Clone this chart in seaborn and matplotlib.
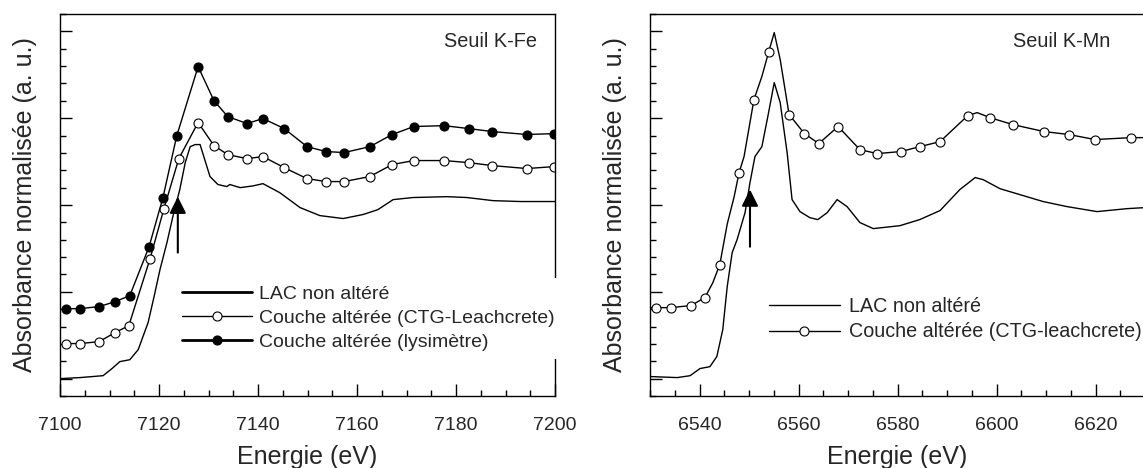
import matplotlib
matplotlib.use('Agg')
import matplotlib.pyplot as plt
import seaborn as sns
from matplotlib.ticker import MultipleLocator

# Seuil K-Fe
fe_lac_x = [7100, 7104, 7108.7, 7110.5, 7112.1, 7114.1, 7115.8, 7117.8, 7119.0, 7120.2, 7121.6, 7122.8,
            7124.2, 7125.3, 7126.3, 7127.3, 7128.3, 7130.3, 7131.9, 7133.7, 7134.3, 7136.4, 7139.0, 7141.0,
            7144.4, 7148.5, 7152.5, 7157.2, 7161.2, 7164.2, 7167.3, 7171.3, 7178.2, 7182.2, 7187.5, 7193.0, 7200]
fe_lac_y = [0.0, 0.006, 0.017, 0.058, 0.098, 0.109, 0.167, 0.323, 0.472, 0.628, 0.783, 0.933,
            1.089, 1.244, 1.336, 1.348, 1.348, 1.164, 1.118, 1.106, 1.118, 1.100, 1.110, 1.123,
            1.071, 0.985, 0.939, 0.922, 0.945, 0.973, 1.031, 1.043, 1.048, 1.043, 1.025, 1.020, 1.020]

fe_ctg_x = [7101.2, 7104.0, 7107.9, 7111.1, 7113.9, 7118.2, 7121.0, 7124.0, 7127.9, 7131.1, 7133.9, 7137.8,
            7141.0, 7145.3, 7149.9, 7153.7, 7157.4, 7162.6, 7167.1, 7171.5, 7177.6, 7182.6, 7187.3, 7194.3, 7199.8]
fe_ctg_y = [0.202, 0.202, 0.213, 0.265, 0.305, 0.691, 0.979, 1.267, 1.475, 1.342, 1.290, 1.267,
            1.279, 1.215, 1.152, 1.135, 1.135, 1.164, 1.233, 1.256, 1.256, 1.244, 1.227, 1.210, 1.221]

fe_lys_x = [7101.2, 7104.0, 7107.9, 7111.1, 7114.1, 7118.0, 7120.8, 7123.6, 7127.9, 7131.1, 7133.9, 7137.8,
            7141.0, 7145.3, 7149.9, 7153.7, 7157.4, 7162.6, 7167.1, 7171.5, 7177.6, 7182.6, 7187.3, 7194.3, 7199.8]
fe_lys_y = [0.403, 0.403, 0.415, 0.443, 0.478, 0.760, 1.043, 1.400, 1.797, 1.601, 1.509, 1.469,
            1.498, 1.440, 1.336, 1.308, 1.302, 1.336, 1.406, 1.452, 1.457, 1.440, 1.423, 1.406, 1.411]

# Seuil K-Mn
mn_lac_x = [6530.0, 6535.5, 6538.1, 6540.1, 6542.1, 6543.5, 6544.7, 6545.6, 6546.6, 6547.6, 6549.2, 6550.2,
            6551.2, 6552.6, 6553.8, 6555.1, 6556.3, 6557.7, 6558.7, 6560.3, 6562.3, 6563.9, 6565.8, 6567.8,
            6569.8, 6572.4, 6575.1, 6580.5, 6584.5, 6588.6, 6592.6, 6595.7, 6597.3, 6600.7, 6604.7, 6609.4,
            6614.2, 6620.3, 6626.4, 6630]
mn_lac_y = [0.012, 0.006, 0.017, 0.058, 0.069, 0.127, 0.282, 0.530, 0.726, 0.801, 0.956, 1.129,
            1.279, 1.336, 1.509, 1.705, 1.590, 1.302, 1.031, 0.962, 0.927, 0.916, 0.956, 1.031,
            0.991, 0.899, 0.864, 0.881, 0.916, 0.968, 1.089, 1.158, 1.146, 1.094, 1.060, 1.020,
            0.991, 0.962, 0.979, 0.985]

mn_ctg_x = [6530.0, 6531.2, 6534.2, 6538.3, 6541.1, 6542.7, 6544.1, 6545.6, 6547.0, 6548.0, 6549.0, 6551.0,
            6552.6, 6554.0, 6555.1, 6556.3, 6558.1, 6561.2, 6564.1, 6568.0, 6572.4, 6575.9, 6580.7, 6584.5,
            6588.6, 6594.2, 6596.1, 6598.7, 6603.3, 6609.6, 6614.6, 6619.9, 6627.2, 6630]
mn_ctg_y = [0.409, 0.409, 0.409, 0.421, 0.467, 0.553, 0.657, 0.890, 1.048, 1.187, 1.279, 1.607,
            1.740, 1.884, 1.993, 1.838, 1.521, 1.411, 1.354, 1.452, 1.319, 1.296, 1.308, 1.336,
            1.365, 1.515, 1.532, 1.503, 1.463, 1.423, 1.406, 1.377, 1.388, 1.388]
mn_ctg_mark = [0, 1, 1, 1, 1, 0, 1, 0, 0, 1, 0, 1,
               0, 1, 0, 0, 1, 1, 1, 1, 1, 1, 1, 1,
               1, 1, 0, 1, 1, 1, 1, 1, 1, 0]

sns.set_style('ticks')
plt.rcParams['font.family'] = ['Liberation Sans', 'DejaVu Sans']

fig = plt.figure(figsize=(11.43, 4.68), dpi=100)
ax1 = fig.add_axes([60 / 1143, 72 / 468, 495 / 1143, 382 / 468])
ax2 = fig.add_axes([650 / 1143, 72 / 468, 495 / 1143, 382 / 468])

# panneau Fe
sns.lineplot(x=fe_lac_x, y=fe_lac_y, ax=ax1, color='black', lw=1.0, label='LAC non altéré')
sns.lineplot(x=fe_ctg_x, y=fe_ctg_y, ax=ax1, color='black', lw=1.0, marker='o', markersize=6.5,
             markerfacecolor='white', markeredgecolor='black', markeredgewidth=0.8,
             label='Couche altérée (CTG-Leachcrete)')
sns.lineplot(x=fe_lys_x, y=fe_lys_y, ax=ax1, color='black', lw=1.0, marker='o', markersize=6.5,
             markerfacecolor='black', markeredgecolor='black', markeredgewidth=0.8,
             label='Couche altérée (lysimètre)')

# panneau Mn
sns.lineplot(x=mn_lac_x, y=mn_lac_y, ax=ax2, color='black', lw=1.0, label='LAC non altéré')
sns.lineplot(x=mn_ctg_x, y=mn_ctg_y, ax=ax2, color='black', lw=1.0, marker='o', markersize=6.5,
             markevery=[bool(m) for m in mn_ctg_mark],
             markerfacecolor='white', markeredgecolor='black', markeredgewidth=0.8,
             label='Couche altérée (CTG-leachcrete)')

for ax, lims in ((ax1, (7100, 7200)), (ax2, (6530, 6630))):
    ax.set_xlim(*lims)
    ax.set_ylim(-0.1, 2.1)
    ax.xaxis.set_major_locator(MultipleLocator(20))
    ax.xaxis.set_minor_locator(MultipleLocator(5))
    ax.yaxis.set_major_locator(MultipleLocator(0.5))
    ax.yaxis.set_minor_locator(MultipleLocator(0.1))
    ax.tick_params(which='both', direction='in', width=1, color='black',
                   top=False, right=False, labelleft=False, labelsize=14, pad=15)
    ax.tick_params(which='major', length=8.5)
    ax.tick_params(which='minor', length=4.5)
    for s in ax.spines.values():
        s.set_color('black')
        s.set_linewidth(1.0)
    ax.set_xlabel('Energie (eV)', fontsize=18)
    ax.set_ylabel('Absorbance normalisée (a. u.)', fontsize=18)
    ax.xaxis.set_label_coords(0.5, -0.128)
    ax.yaxis.set_label_coords(-0.047, 0.5)

ax1.text(0.964, 0.927, 'Seuil K-Fe', transform=ax1.transAxes, ha='right', va='center', fontsize=14.3)
ax2.text(0.931, 0.927, 'Seuil K-Mn', transform=ax2.transAxes, ha='right', va='center', fontsize=14.3)

arrow = dict(arrowstyle='-|>,head_length=1.0,head_width=0.5', mutation_scale=10,
             color='black', lw=1.5, shrinkA=0, shrinkB=0)
ax1.annotate('', xy=(7123.8, 1.048), xytext=(7123.8, 0.726), arrowprops=arrow)
ax2.annotate('', xy=(6550.2, 1.089), xytext=(6550.2, 0.760), arrowprops=arrow)

leg1 = ax1.legend(loc='upper left', bbox_to_anchor=(0.23, 0.31), fontsize=14, frameon=True,
                  facecolor='white', edgecolor='none', framealpha=1, fancybox=False,
                  borderaxespad=0, borderpad=0.4, handlelength=3.6, handletextpad=0.4, labelspacing=0.33)
for h, w in zip(leg1.legend_handles, (2.0, 1.0, 2.0)):
    h.set_linewidth(w)

leg2 = ax2.legend(loc='upper left', bbox_to_anchor=(0.224, 0.28), fontsize=14.2, frameon=True,
                  facecolor='white', edgecolor='none', framealpha=1, fancybox=False,
                  borderaxespad=0, borderpad=0.4, handlelength=3.6, handletextpad=0.45, labelspacing=0.33)
for h in leg2.legend_handles:
    h.set_markevery([1])

fig.savefig('out.png', dpi=100)
